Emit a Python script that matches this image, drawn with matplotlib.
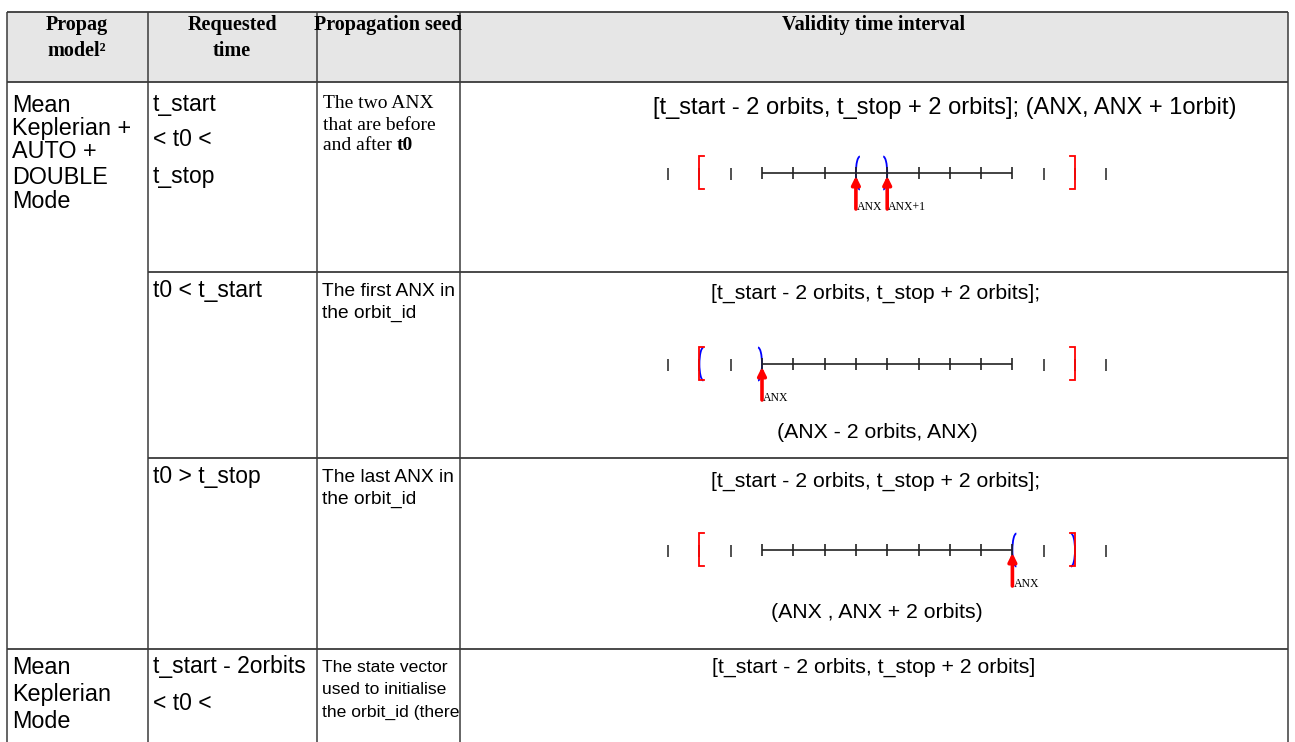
import matplotlib
matplotlib.use("Agg")
import matplotlib.pyplot as plt
from matplotlib.patches import Arc, Rectangle

plt.rcParams['font.family'] = ['Liberation Sans', 'DejaVu Sans']

# ---- table content ----
header = [["Propag", "model²"], ["Requested", "time"], ["Propagation seed"], ["Validity time interval"]]
model_auto = [["Mean", "Keplerian +", "AUTO +"], ["DOUBLE", "Mode"]]
model_mean = [["Mean", "Keplerian", "Mode"]]
req_time = [["t_start", "< t0 <", "t_stop"], ["t0 < t_start"], ["t0 > t_stop"],
            ["t_start - 2orbits", "< t0 <"]]
seed = [["The two ANX", "that are before", "and after "],
        ["The first ANX in", "the orbit_id"],
        ["The last ANX in", "the orbit_id"],
        ["The state vector", "used to initialise", "the orbit_id (there"]]
validity_top = ["[t_start - 2 orbits, t_stop + 2 orbits]; (ANX, ANX + 1orbit)",
                "[t_start - 2 orbits, t_stop + 2 orbits];",
                "[t_start - 2 orbits, t_stop + 2 orbits];",
                "[t_start - 2 orbits, t_stop + 2 orbits]"]
validity_bottom = ["", "(ANX - 2 orbits, ANX)", "(ANX , ANX + 2 orbits)", ""]

# ---- diagrams (in orbits, t_start = 0, t_stop = 8) ----
free_ticks = [-3, -2, -1, 9, 10, 11]
orbit_ticks = [0, 1, 2, 3, 4, 5, 6, 7, 8]
red_open = [-2, -2, -2]
red_close = [10, 10, 10]
blue_open = [3, -2, 8]
blue_close = [4, 0, 10]
anx_pos = [[3, 4], [0], [8]]
anx_names = [["ANX", "ANX+1"], ["ANX"], ["ANX"]]

# ---- layout (pixels) ----
col_x = [7, 148, 317, 460, 1288]
row_y = [12, 82, 272, 458, 649, 742]
x0, unit = 762, 31.3
line_y = [173, 364, 550]
line_c = '#3a3a3a'
serif_f = ['Liberation Serif', 'DejaVu Serif']
f_model, f_req, f_seed, f_valid = 16.8, 16.5, 13.8, 15.3

fig = plt.figure(figsize=(12.95, 7.42), dpi=100)
ax = fig.add_axes([0, 0, 1, 1])
ax.set_xlim(0, 1295)
ax.set_ylim(742, 0)
ax.axis('off')

# header band
ax.add_patch(Rectangle((col_x[0], row_y[0]), col_x[-1] - col_x[0], row_y[1] - row_y[0],
                       facecolor='#e6e6e6', edgecolor='none'))

# grid
ax.hlines([row_y[0], row_y[1], row_y[4]], col_x[0], col_x[-1], color=line_c, lw=1.3)
ax.hlines([row_y[2], row_y[3]], col_x[1], col_x[-1], color=line_c, lw=1.3)
ax.vlines(col_x, row_y[0], row_y[-1], color=line_c, lw=1.1)

# header text
hx = [77, 232, 388, 874]
for lines, x in zip(header, hx):
    for j, s in enumerate(lines):
        ax.text(x, 25 + 26 * j, s, ha='center', va='center', family=serif_f,
                fontweight='bold', fontsize=14.5)


def lines_at(x, ys, lines, **kw):
    out = []
    for y, s in zip(ys, lines):
        out.append(ax.text(x, y, s, ha='left', va='center', **kw))
    return out


# first column
lines_at(12, [105, 128, 151], model_auto[0], fontsize=f_model)
lines_at(12, [178, 201], model_auto[1], fontsize=f_model)
lines_at(12, [667, 694, 721], model_mean[0], fontsize=f_model)

# requested time
lines_at(153, [105, 140, 176], req_time[0], fontsize=f_req)
lines_at(153, [291], req_time[1], fontsize=f_req)
lines_at(153, [477], req_time[2], fontsize=f_req)
lines_at(153, [667, 703], req_time[3], fontsize=f_req)

# propagation seed
t = lines_at(323, [104, 125, 146], seed[0], family=serif_f, fontsize=14)
ax.annotate('t0', xy=(1, 0), xycoords=t[-1], ha='left', va='bottom',
            family=serif_f, fontsize=14, fontweight='bold')
lines_at(322, [291, 313], seed[1], fontsize=f_seed)
lines_at(322, [477, 499], seed[2], fontsize=f_seed)
lines_at(322, [667, 689, 712], seed[3], fontsize=12.6)

# validity interval text
top_y = [108, 293, 481, 667]
top_x = [945, 876, 876, 874]
top_f = [17, f_valid, f_valid, f_valid]
for s, x, y, f in zip(validity_top, top_x, top_y, top_f):
    ax.text(x, y, s, ha='center', va='center', fontsize=f)
bot_y = [0, 433, 613, 0]
for s, y in zip(validity_bottom, bot_y):
    if s:
        ax.text(877, y, s, ha='center', va='center', fontsize=f_valid)

# timelines
for i, ly in enumerate(line_y):
    xs = [x0 + unit * k for k in orbit_ticks]
    ax.plot([xs[0], xs[-1]], [ly, ly], color='#222222', lw=1.2, solid_capstyle='butt')
    ax.vlines(xs, ly - 6, ly + 6, color='#222222', lw=1.2)
    ax.vlines([x0 + unit * k for k in free_ticks], ly - 5, ly + 7, color='#333333', lw=1.2)
    # red brackets
    for k, d in [(red_open[i], 1), (red_close[i], -1)]:
        bx = x0 + unit * k
        ax.plot([bx + 5 * d, bx, bx, bx + 5 * d], [ly - 17, ly - 17, ly + 16, ly + 16],
                color='red', lw=1.3, solid_joinstyle='miter')
    # blue parentheses
    bx = x0 + unit * blue_open[i]
    ax.add_patch(Arc((bx + 4, ly), 8, 33, theta1=90, theta2=270, color='blue', lw=1.3))
    bx = x0 + unit * blue_close[i]
    ax.add_patch(Arc((bx - 4, ly), 8, 33, theta1=-90, theta2=90, color='blue', lw=1.3))
    # ANX arrows
    for k, name in zip(anx_pos[i], anx_names[i]):
        px = x0 + unit * k
        ax.annotate('', xy=(px, ly + 3), xytext=(px, ly + 36),
                    arrowprops=dict(arrowstyle='-|>', color='red', lw=2.6,
                                    mutation_scale=12, shrinkA=0, shrinkB=0))
        ax.text(px + 1, ly + 34, name, ha='left', va='center', family=serif_f,
                fontsize=8.5)

fig.savefig('out.png', dpi=100)
